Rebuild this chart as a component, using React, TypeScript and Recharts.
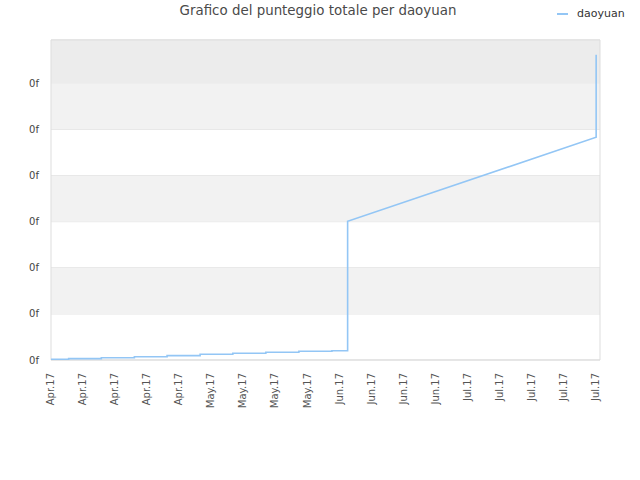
import React from 'react';
import { LineChart, Line, XAxis, YAxis, CartesianGrid, ReferenceArea } from 'recharts';

const tickLabels = [
  'Apr.17', 'Apr.17', 'Apr.17', 'Apr.17', 'Apr.17',
  'May.17', 'May.17', 'May.17', 'May.17',
  'Jun.17', 'Jun.17', 'Jun.17', 'Jun.17',
  'Jul.17', 'Jul.17', 'Jul.17', 'Jul.17', 'Jul.17',
];
const tickPositions = tickLabels.map((_, i) => i);

// positions along the date axis (in tick units) and the total score (in grid units)
const pointX = [
  0, 0.55, 0.55, 1.57, 1.57, 2.6, 2.6, 3.62, 3.62, 4.65, 4.65, 5.67, 5.67,
  6.7, 6.7, 7.73, 7.73, 8.76, 8.76, 9.25, 9.25, 17, 17,
];
const pointScore = [
  0.015, 0.015, 0.03, 0.03, 0.05, 0.05, 0.072, 0.072, 0.094, 0.094, 0.124, 0.124, 0.145,
  0.145, 0.167, 0.167, 0.19, 0.19, 0.2, 0.2, 3.01, 4.83, 6.62,
];
const yTicks = [0, 1, 2, 3, 4, 5, 6];
const yMax = 6.94;
const xMax = 17.12;
const seriesName = 'daoyuan';
const title = 'Grafico del punteggio totale per daoyuan';

const data = pointX.map((x, i) => ({ x, score: pointScore[i] }));

const FONT = '"DejaVu Sans", Verdana, sans-serif';

const XTick = (props: any) => {
  const { x, y, payload } = props;
  return (
    <text
      transform={`translate(${x},${y}) rotate(-90)`}
      textAnchor="end"
      dy="0.3em"
      fontSize={10}
      fontFamily={FONT}
      fill="#555"
    >
      {tickLabels[payload.value]}
    </text>
  );
};

export default function App() {
  return (
    <div style={{ position: 'absolute', left: 0, top: 0, width: 640, height: 480, background: '#fff' }}>
      <div
        style={{
          position: 'absolute', left: 0, top: 3, width: 636, textAlign: 'center',
          fontFamily: FONT, fontSize: 13.4, color: '#4a4a4a',
        }}
      >
        {title}
      </div>
      <div style={{ position: 'absolute', left: 557, top: 7, display: 'flex', alignItems: 'center', fontFamily: FONT, fontSize: 11, color: '#333' }}>
        <span style={{ display: 'inline-block', width: 11, height: 2, background: '#93c6f5', marginRight: 9 }} />
        <span>{seriesName}</span>
      </div>
      <LineChart
        width={640}
        height={480}
        data={data}
        margin={{ top: 40, right: 40, bottom: 60, left: 10 }}
      >
        <ReferenceArea y1={6} y2={yMax} x1={0} x2={xMax} fill="#ececec" fillOpacity={1} />
        <ReferenceArea y1={5} y2={6} x1={0} x2={xMax} fill="#f2f2f2" fillOpacity={1} />
        <ReferenceArea y1={3} y2={4} x1={0} x2={xMax} fill="#f2f2f2" fillOpacity={1} />
        <ReferenceArea y1={1} y2={2} x1={0} x2={xMax} fill="#f2f2f2" fillOpacity={1} />
        <CartesianGrid vertical={false} stroke="#dddddd" />
        <ReferenceArea y1={0} y2={yMax} x1={0} x2={xMax} fill="none" stroke="#dddddd" strokeWidth={1} />
        <XAxis
          dataKey="x"
          type="number"
          domain={[0, xMax]}
          ticks={tickPositions}
          interval={0}
          axisLine={false}
          tickLine={false}
          tickMargin={7}
          height={60}
          tick={<XTick />}
        />
        <YAxis
          type="number"
          domain={[0, yMax]}
          ticks={yTicks}
          width={41}
          axisLine={false}
          tickLine={false}
          tickMargin={6}
          tickFormatter={() => '0f'}
          tick={{ fontSize: 10, fontFamily: FONT, fill: '#444' }}
        />
        <Line
          type="linear"
          dataKey="score"
          stroke="#93c6f5"
          strokeWidth={1.6}
          dot={false}
          isAnimationActive={false}
        />
      </LineChart>
    </div>
  );
}
